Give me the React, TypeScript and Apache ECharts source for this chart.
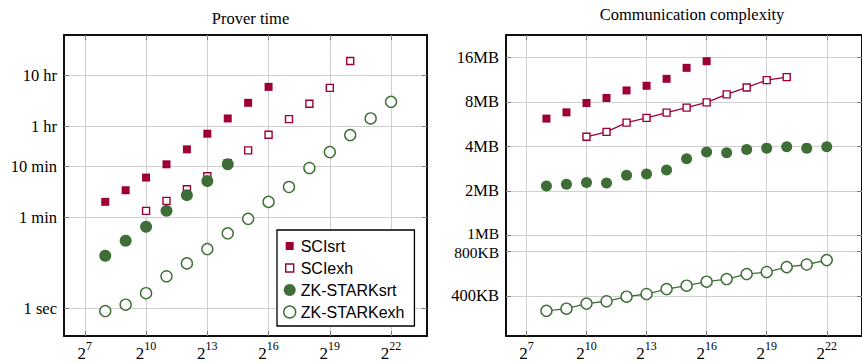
import React, { useEffect, useRef } from 'react';
import * as echarts from 'echarts';

const RED = '#9e0034';
const GREEN = '#3e6e36';
const SERIF = '"Liberation Serif", "Times New Roman", serif';
const SANS = '"Liberation Sans", Arial, sans-serif';

// x values are log2(size)
const xTickExp = [7, 10, 13, 16, 19, 22];

// Prover time, seconds
const proverSciSrtExp = [8, 9, 10, 11, 12, 13, 14, 15, 16];
const proverSciSrtSec = [120, 202, 358, 650, 1274, 2579, 5126, 10370, 21250];
const proverSciExhExp = [10, 11, 12, 13, 14, 15, 16, 17, 18, 19, 20];
const proverSciExhSec = [80, 125, 212, 379, 680, 1219, 2466, 4966, 9910, 20320, 68250];
const proverStarkSrtExp = [8, 9, 10, 11, 12, 13, 14];
const proverStarkSrtSec = [10.6, 20.8, 39, 80, 162, 307, 650];
const proverStarkExhExp = [8, 9, 10, 11, 12, 13, 14, 15, 16, 17, 18, 19, 20, 21, 22];
const proverStarkExhSec = [0.875, 1.17, 1.96, 4.2, 7.5, 14.3, 29, 55.8, 119.7, 234, 550, 1129, 2421, 5126, 10840];
const proverTickSec = [1, 60, 600, 3600, 36000];
const proverTickLabels = ['1 sec', '1 min', '10 min', '1 hr', '10 hr'];

// Communication complexity, KB
const commSciSrtExp = [8, 9, 10, 11, 12, 13, 14, 15, 16];
const commSciSrtKB = [6308, 6950, 8040, 8690, 9770, 10510, 11710, 13890, 15400];
const commSciExhExp = [10, 11, 12, 13, 14, 15, 16, 17, 18, 19, 20];
const commSciExhKB = [4752, 5134, 5927, 6374, 6920, 7477, 8117, 9187, 10234, 11478, 12030];
const commStarkSrtExp = [8, 9, 10, 11, 12, 13, 14, 15, 16, 17, 18, 19, 20, 21, 22];
const commStarkSrtKB = [2213, 2272, 2333, 2320, 2610, 2663, 2834, 3380, 3745, 3710, 3905, 3984, 4070, 3984, 4070];
const commStarkExhExp = [8, 9, 10, 11, 12, 13, 14, 15, 16, 17, 18, 19, 20, 21, 22];
const commStarkExhKB = [317, 328, 355, 368, 395, 412, 445, 469, 499, 520, 562, 580, 626, 652, 698];
const commTickKB = [400, 800, 1024, 2048, 4096, 8192, 16384];
const commTickLabels = ['400KB', '800KB', '1MB', '2MB', '4MB', '8MB', '16MB'];

const seriesNames = ['SCIsrt', 'SCIexh', 'ZK-STARKsrt', 'ZK-STARKexh'];

const toData = (exps: number[], vals: number[]) => exps.map((e, i) => [Math.pow(2, e), vals[i]]);

const nearestIndex = (v: number, ticks: number[]) => {
  let best = 0;
  let bd = Infinity;
  ticks.forEach((t, i) => {
    const d = Math.abs(Math.log(v) - Math.log(t));
    if (d < bd) { bd = d; best = i; }
  });
  return best;
};

const X_MIN = Math.pow(2, 5.98);
const X_MAX = Math.pow(2, 23.76);
const xTickVals = xTickExp.map((e) => Math.pow(2, e));

const tickStyle = { show: true, inside: true, length: 5, lineStyle: { color: '#808080', width: 1 } };
const gridLine = { show: true, lineStyle: { color: '#cfcfcf', width: 1 } };

function xAxes(gridIndex: number) {
  return [
    {
      type: 'log', logBase: 2, gridIndex, position: 'bottom', min: X_MIN, max: X_MAX,
      axisLine: { show: true, onZero: false, lineStyle: { color: '#000', width: 1.5 } },
      axisTick: { ...tickStyle, customValues: xTickVals },
      splitLine: gridLine,
      minorTick: { show: false }, minorSplitLine: { show: false },
      axisLabel: {
        customValues: xTickVals,
        margin: 4,
        formatter: (v: number) => `{b|2}{s|${Math.round(Math.log2(v))}}`,
        rich: {
          b: { fontSize: 17, fontFamily: SERIF, color: '#000', lineHeight: 22, verticalAlign: 'bottom' },
          s: { fontSize: 12, fontFamily: SERIF, color: '#000', lineHeight: 12, verticalAlign: 'top' },
        },
      },
    },
    {
      type: 'log', logBase: 2, gridIndex, position: 'top', min: X_MIN, max: X_MAX,
      axisLine: { show: true, onZero: false, lineStyle: { color: '#000', width: 1.5 } },
      axisTick: { ...tickStyle, customValues: xTickVals },
      splitLine: { show: false },
      axisLabel: { show: false },
    },
  ];
}

const labelRich = {
  n: { fontSize: 16.5, lineHeight: 14, fontFamily: SERIF, color: '#000' },
  up: { fontSize: 15.5, lineHeight: 13, fontFamily: SERIF, color: '#000', padding: [0, 0, 3, 0] },
  dn: { fontSize: 15.5, lineHeight: 13, fontFamily: SERIF, color: '#000', padding: [3, 0, 0, 0] },
};

function yAxes(gridIndex: number, base: number, min: number, max: number, ticks: number[], labels: string[], styleKeys: string[]) {
  return [
    {
      type: 'log', logBase: base, gridIndex, position: 'left', min, max,
      axisLine: { show: true, onZero: false, lineStyle: { color: '#000', width: 1.5 } },
      axisTick: { ...tickStyle, customValues: ticks },
      splitLine: gridLine,
      minorTick: { show: false }, minorSplitLine: { show: false },
      axisLabel: {
        customValues: ticks,
        margin: 7,
        fontSize: 16.5,
        lineHeight: 14,
        fontFamily: SERIF,
        color: '#000',
        hideOverlap: false,
        formatter: (v: number) => {
          const i = nearestIndex(v, ticks);
          return `{${styleKeys[i]}|${labels[i]}}`;
        },
        rich: labelRich,
      },
    },
    {
      type: 'log', logBase: base, gridIndex, position: 'right', min, max,
      axisLine: { show: true, onZero: false, lineStyle: { color: '#000', width: 1.5 } },
      axisTick: { ...tickStyle, customValues: ticks },
      splitLine: { show: false },
      axisLabel: { show: false },
    },
  ];
}

function makeSeries(gi: number, sets: [number[], number[]][], lines: boolean[], sizes: number[]) {
  const styles = [
    { symbol: 'rect', itemStyle: { color: RED, borderWidth: 0, opacity: 1 } },
    { symbol: 'rect', itemStyle: { color: '#fff', borderColor: RED, borderWidth: 1.4, opacity: 1 } },
    { symbol: 'circle', itemStyle: { color: GREEN, borderWidth: 0, opacity: 1 } },
    { symbol: 'circle', itemStyle: { color: '#fff', borderColor: GREEN, borderWidth: 1.4, opacity: 1 } },
  ];
  const colors = [RED, RED, GREEN, GREEN];
  return sets.map((s, i) => ({
    name: seriesNames[i],
    type: lines[i] ? 'line' : 'scatter',
    xAxisIndex: gi * 2,
    yAxisIndex: gi * 2,
    data: toData(s[0], s[1]),
    symbol: styles[i].symbol,
    symbolSize: sizes[i],
    showSymbol: true,
    itemStyle: styles[i].itemStyle,
    lineStyle: { color: colors[i], width: 1.3, opacity: 1 },
    emphasis: { disabled: true },
    z: 3,
  }));
}

export default function App() {
  const ref = useRef<HTMLDivElement>(null);
  useEffect(() => {
    if (!ref.current) return;
    const chart = echarts.init(ref.current, null, { renderer: 'svg' });
    const option = {
      animation: false,
      backgroundColor: '#fff',
      title: [
        { text: 'Prover time', left: 245.5, top: 5, textAlign: 'center', textStyle: { fontFamily: SERIF, fontSize: 16.5, fontWeight: 'normal', color: '#000' } },
        { text: 'Communication complexity', left: 687, top: 1, textAlign: 'center', textStyle: { fontFamily: SERIF, fontSize: 16.5, fontWeight: 'normal', color: '#000' } },
      ],
      grid: [
        { left: 64, top: 35, width: 363, height: 302, show: true, borderColor: '#000', borderWidth: 1.5, backgroundColor: 'transparent' },
        { left: 506, top: 35, width: 363, height: 302, show: true, borderColor: '#000', borderWidth: 1.5, backgroundColor: 'transparent' },
      ],
      xAxis: [...xAxes(0), ...xAxes(1)],
      yAxis: [
        ...yAxes(0, 10, 0.285, 219800, proverTickSec, proverTickLabels, ['n', 'n', 'n', 'n', 'n']),
        ...yAxes(1, 2, 214.4, 23150, commTickKB, commTickLabels, ['n', 'dn', 'up', 'n', 'n', 'n', 'n']),
      ],
      legend: {
        orient: 'vertical',
        left: 277,
        top: 230,
        padding: [8, 10, 6, 6],
        itemGap: 6,
        itemWidth: 12,
        itemHeight: 12,
        borderColor: '#000',
        borderWidth: 1.3,
        backgroundColor: '#fff',
        selectedMode: false,
        textStyle: { fontFamily: SANS, fontSize: 16, color: '#000', lineHeight: 16 },
        data: [
          { name: 'SCIsrt', icon: 'path://M0,0M12,12M2,2h8v8h-8z', itemStyle: { color: RED, borderWidth: 0, opacity: 1 } },
          { name: 'SCIexh', icon: 'path://M0,0M12,12M2,2h8v8h-8z', itemStyle: { color: '#fff', borderColor: RED, borderWidth: 1.4, opacity: 1 } },
          { name: 'ZK-STARKsrt', icon: 'circle', itemStyle: { color: GREEN, borderWidth: 0, opacity: 1 } },
          { name: 'ZK-STARKexh', icon: 'circle', itemStyle: { color: '#fff', borderColor: GREEN, borderWidth: 1.4, opacity: 1 } },
        ],
      },
      series: [
        ...makeSeries(0, [
          [proverSciSrtExp, proverSciSrtSec],
          [proverSciExhExp, proverSciExhSec],
          [proverStarkSrtExp, proverStarkSrtSec],
          [proverStarkExhExp, proverStarkExhSec],
        ], [false, false, false, false], [8, 7, 12, 11]),
        ...makeSeries(1, [
          [commSciSrtExp, commSciSrtKB],
          [commSciExhExp, commSciExhKB],
          [commStarkSrtExp, commStarkSrtKB],
          [commStarkExhExp, commStarkExhKB],
        ], [false, true, false, true], [8, 7, 11, 11]),
      ],
    };
    chart.setOption(option as any);
    return () => chart.dispose();
  }, []);
  return <div ref={ref} style={{ position: 'fixed', left: 0, top: 0, width: 862, height: 362 }} />;
}
